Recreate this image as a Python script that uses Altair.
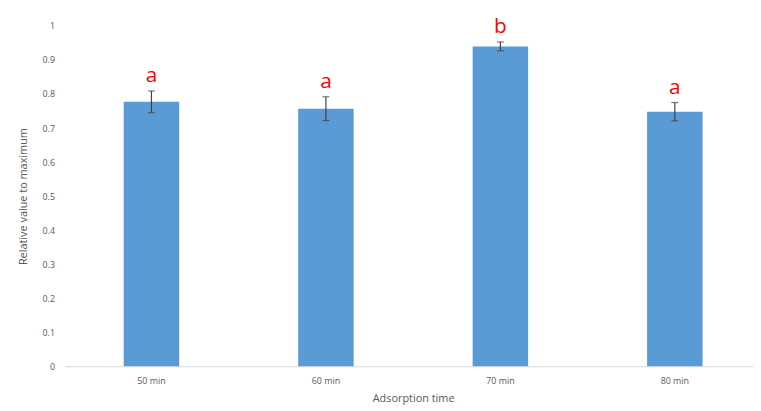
import altair as alt
import pandas as pd

categories = ["50 min", "60 min", "70 min", "80 min"]
values = [0.777, 0.757, 0.940, 0.748]
errors = [0.032, 0.035, 0.013, 0.027]
letters = ["a", "a", "b", "a"]
y_ticks = [0, 0.1, 0.2, 0.3, 0.4, 0.5, 0.6, 0.7, 0.8, 0.9, 1]

df = pd.DataFrame({"time": categories, "value": values, "err": errors, "letter": letters})
df["lo"] = df["value"] - df["err"]
df["hi"] = df["value"] + df["err"]

FONT = "Open Sans"
GREY = "#595959"

x_scale = alt.Scale(range=[0, 705], paddingInner=0.682, paddingOuter=0.34)
x_axis = alt.Axis(labelAngle=0, ticks=False, domainColor="#d9d9d9", labelColor=GREY,
                  labelFontSize=9, labelPadding=10, titleColor=GREY, titleFontSize=11,
                  titleFontWeight="normal", titlePadding=8, labelFont=FONT, titleFont=FONT)
y_scale = alt.Scale(domain=[0, 1])
y_axis = alt.Axis(values=y_ticks, format="~g", grid=False, domain=False,
                  ticks=False, labelColor=GREY, labelFontSize=9, labelPadding=10,
                  labelOverlap=False,
                  titleColor=GREY, titleFontSize=11, titleFontWeight="normal", titlePadding=14,
                  labelFont=FONT, titleFont=FONT)
YT = "Relative value to maximum"


def X():
    return alt.X("time:N", sort=categories, title="Adsorption time", scale=x_scale, axis=x_axis)


def Y(field):
    return alt.Y(field, title=YT, scale=y_scale, axis=y_axis)


base = alt.Chart(df)
bars = base.mark_bar(color="#5B9BD5").encode(x=X(), y=Y("value:Q"))
rules = base.mark_rule(color="#404040", strokeWidth=1.2).encode(
    x=X(), y=Y("lo:Q"), y2="hi:Q")
caps_hi = base.mark_tick(color="#404040", orient="horizontal", size=7, thickness=1.2).encode(
    x=X(), y=Y("hi:Q"))
caps_lo = base.mark_tick(color="#404040", orient="horizontal", size=7, thickness=1.2).encode(
    x=X(), y=Y("lo:Q"))
text = base.mark_text(color="#FF0000", fontSize=21, font=FONT, baseline="bottom", dy=-5).encode(
    x=X(), y=Y("hi:Q"), text="letter:N")

chart = alt.layer(bars, rules, caps_hi, caps_lo, text).properties(
    width=696, height=344,
    autosize=alt.AutoSizeParams(type="none"),
    padding={"left": 57, "top": 16, "right": 0, "bottom": 40},
).configure(background="white").configure_view(strokeWidth=0)

chart.save("out.html", embed_options={"renderer": "svg", "actions": False})
